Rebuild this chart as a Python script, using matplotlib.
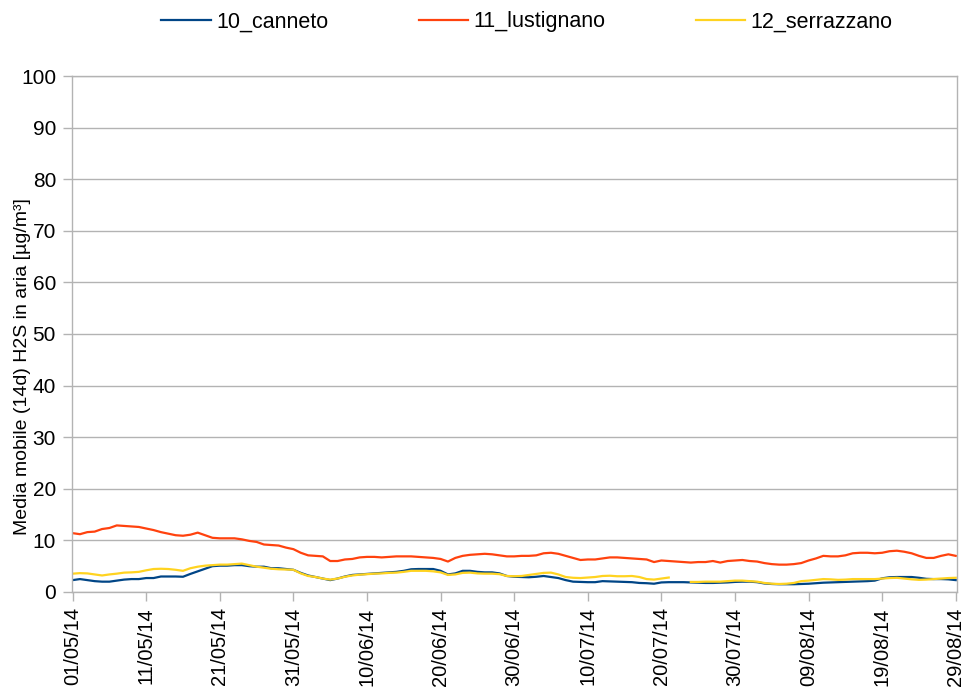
import numpy as np
import pandas as pd
import matplotlib
matplotlib.use("Agg")
import matplotlib.pyplot as plt
import matplotlib.dates as mdates

plt.rcParams['font.family'] = ['Liberation Sans', 'DejaVu Sans']

# giorni dal 01/05/14 al 29/08/14
date = pd.date_range("2014-05-01", "2014-08-29", freq="D")

canneto = [2.3, 2.5, 2.3, 2.1, 2.0, 2.0, 2.2, 2.4, 2.5, 2.5,
           2.7, 2.7, 3.0, 3.0, 3.0, 2.95, 3.5, 4.0, 4.5, 5.0,
           5.1, 5.1, 5.2, 5.2, 5.0, 4.9, 4.9, 4.6, 4.6, 4.45,
           4.3, 3.7, 3.2, 2.9, 2.6, 2.3, 2.6, 3.0, 3.3, 3.4,
           3.5, 3.6, 3.7, 3.8, 3.9, 4.1, 4.4, 4.45, 4.45, 4.45,
           4.1, 3.4, 3.6, 4.1, 4.1, 3.9, 3.8, 3.8, 3.6, 3.1,
           2.95, 2.9, 2.85, 2.95, 3.1, 2.9, 2.7, 2.3, 2.0, 1.95,
           1.9, 1.9, 2.1, 2.05, 2.0, 1.95, 1.9, 1.75, 1.7, 1.6,
           1.85, 1.9, 1.9, 1.9, 1.85, 1.8, 1.75, 1.75, 1.8, 1.85,
           1.95, 2.0, 2.0, 1.9, 1.65, 1.55, 1.5, 1.5, 1.5, 1.55,
           1.6, 1.7, 1.8, 1.85, 1.9, 1.95, 2.0, 2.05, 2.1, 2.2,
           2.65, 2.85, 2.9, 2.9, 2.9, 2.75, 2.55, 2.5, 2.5, 2.45,
           2.3]

lustignano = [11.4, 11.2, 11.6, 11.7, 12.2, 12.4, 12.9, 12.8, 12.7, 12.6,
              12.3, 12.0, 11.6, 11.3, 11.0, 10.9, 11.1, 11.5, 11.0, 10.5,
              10.4, 10.4, 10.4, 10.2, 9.9, 9.7, 9.2, 9.1, 9.0, 8.6,
              8.3, 7.6, 7.1, 7.0, 6.9, 6.0, 6.0, 6.3, 6.4, 6.7,
              6.8, 6.8, 6.7, 6.8, 6.9, 6.9, 6.9, 6.8, 6.7, 6.6,
              6.4, 5.9, 6.6, 7.0, 7.2, 7.3, 7.4, 7.3, 7.1, 6.9,
              6.9, 7.0, 7.0, 7.1, 7.5, 7.6, 7.4, 7.0, 6.6, 6.2,
              6.3, 6.3, 6.5, 6.7, 6.7, 6.6, 6.5, 6.4, 6.3, 5.8,
              6.1, 6.0, 5.9, 5.8, 5.7, 5.8, 5.8, 6.0, 5.7, 6.0,
              6.1, 6.2, 6.0, 5.9, 5.6, 5.4, 5.3, 5.3, 5.4, 5.6,
              6.1, 6.5, 7.0, 6.9, 6.9, 7.1, 7.5, 7.6, 7.6, 7.5,
              7.6, 7.9, 8.0, 7.8, 7.5, 7.0, 6.6, 6.6, 7.0, 7.3,
              7.0]

serrazzano = [3.55, 3.65, 3.6, 3.4, 3.2, 3.4, 3.55, 3.75, 3.8, 3.9,
              4.2, 4.45, 4.5, 4.45, 4.3, 4.1, 4.6, 4.9, 5.1, 5.2,
              5.3, 5.3, 5.4, 5.5, 5.2, 4.9, 4.7, 4.5, 4.4, 4.35,
              4.3, 3.6, 3.1, 2.9, 2.6, 2.4, 2.6, 2.95, 3.2, 3.35,
              3.45, 3.55, 3.6, 3.7, 3.75, 3.9, 4.1, 4.1, 4.1, 4.0,
              3.8, 3.3, 3.4, 3.7, 3.75, 3.6, 3.55, 3.55, 3.45, 3.1,
              3.05, 3.1, 3.3, 3.5, 3.7, 3.75, 3.4, 2.9, 2.75, 2.7,
              2.8, 2.9, 3.1, 3.15, 3.05, 3.05, 3.1, 2.9, 2.5, 2.4,
              2.6, 2.8, np.nan, np.nan, 1.95, 1.95, 2.0, 2.0, 2.0, 2.1,
              2.2, 2.2, 2.1, 2.0, 1.75, 1.6, 1.55, 1.6, 1.75, 2.1,
              2.2, 2.35, 2.5, 2.45, 2.35, 2.4, 2.5, 2.5, 2.5, 2.5,
              2.6, 2.7, 2.75, 2.6, 2.45, 2.35, 2.4, 2.5, 2.6, 2.7,
              2.75]

grigio = "#b3b3b3"

fig = plt.figure(figsize=(9.69, 6.91), dpi=100)
ax = fig.add_axes([0.0743, 0.1433, 0.9133, 0.7467])

ax.plot(date, canneto, color="#004586", linewidth=1.6, label="10_canneto")
ax.plot(date, lustignano, color="#ff420e", linewidth=1.6, label="11_lustignano")
ax.plot(date, serrazzano, color="#ffd320", linewidth=1.6, label="12_serrazzano")

ax.set_ylim(0, 100)
ax.set_yticks(range(0, 101, 10))
ax.set_xlim(date[0] - pd.Timedelta(hours=2), date[-1] + pd.Timedelta(hours=4))
ax.set_xticks(date[::10])
ax.xaxis.set_major_formatter(mdates.DateFormatter("%d/%m/%y"))
plt.setp(ax.get_xticklabels(), rotation=90, fontsize=14.5)
plt.setp(ax.get_yticklabels(), fontsize=15)

ax.grid(axis="y", color=grigio, linewidth=1)
ax.set_axisbelow(True)
for s in ax.spines.values():
    s.set_color(grigio)
    s.set_linewidth(1)
ax.tick_params(axis="x", color=grigio, length=6.5, width=1, pad=4.5)
ax.tick_params(axis="y", color=grigio, length=6.5, width=1, pad=5)

fig.text(23 / 969, 1 - 367 / 691, "Media mobile (14d) H2S in aria [µg/m³]",
         rotation=90, ha="center", va="center", fontsize=14)

fig.legend(loc="center", bbox_to_anchor=(527 / 969, 1 - 22 / 691), ncol=3,
           frameon=False, fontsize=15.5, handlelength=2.3, handletextpad=0.25,
           columnspacing=4.2)

fig.savefig("out.png", dpi=100)
